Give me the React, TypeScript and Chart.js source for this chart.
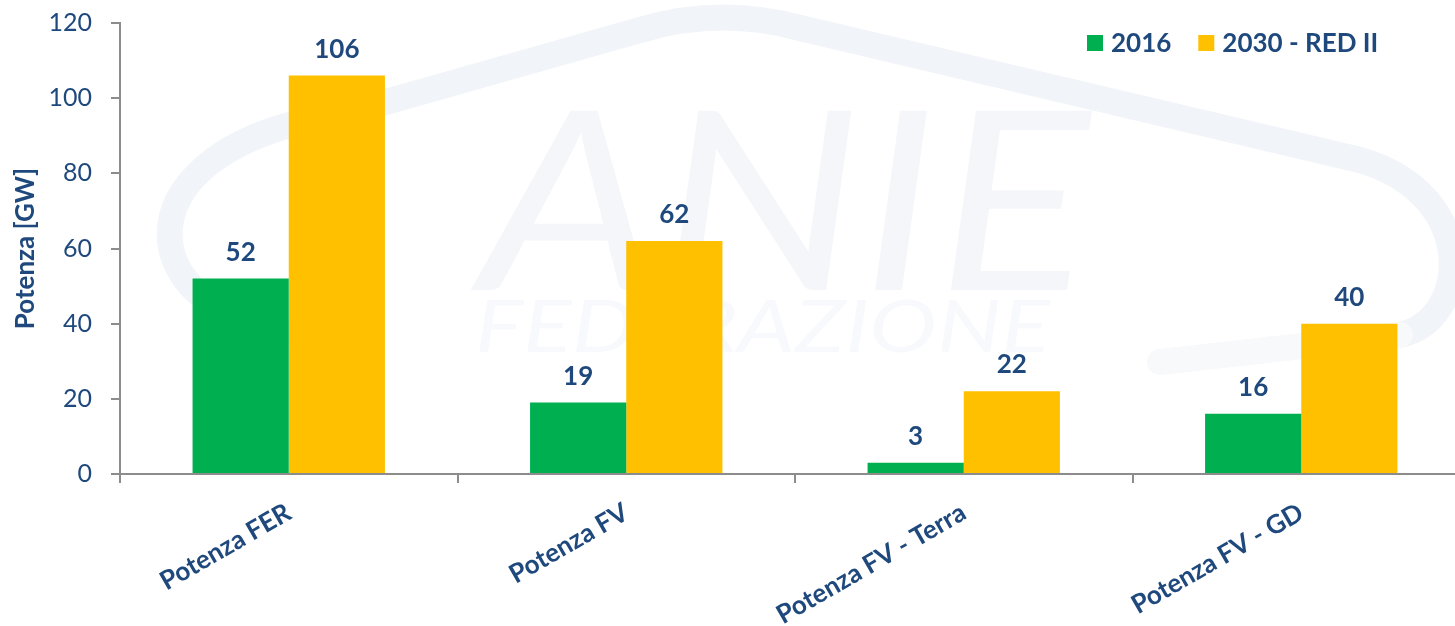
import React, { useEffect, useRef } from "react";
import { Chart, registerables } from "chart.js";

Chart.register(...registerables);

const categories = ["Potenza FER", "Potenza FV", "Potenza FV - Terra", "Potenza FV - GD"];
const values2016 = [52, 19, 3, 16];
const values2030 = [106, 62, 22, 40];
const seriesLabels = ["2016", "2030 - RED II"];
const seriesColors = ["#00B050", "#FFC000"];
const yTicks = [0, 20, 40, 60, 80, 100, 120];
const yTitle = "Potenza [GW]";
const watermarkMain = "ANIE";
const watermarkSub = "FEDERAZIONE";

const TEXT = "#1F497D";
const AXIS = "#8C8C8C";
const FONT = "Lato";
const SHIFT = 11; // canvas is placed SHIFT px above the page top

const watermarkPlugin = {
  id: "watermark",
  beforeDraw(chart: any) {
    const ctx = chart.ctx as CanvasRenderingContext2D;
    ctx.save();
    ctx.translate(0, SHIFT);
    ctx.strokeStyle = "#F1F4F8";
    ctx.lineWidth = 26;
    ctx.lineCap = "round";
    ctx.lineJoin = "round";
    ctx.beginPath();
    ctx.moveTo(300, 335);
    ctx.bezierCurveTo(120, 310, 120, 145, 340, 115);
    ctx.lineTo(640, 30);
    ctx.quadraticCurveTo(720, 6, 800, 28);
    ctx.lineTo(1360, 160);
    ctx.bezierCurveTo(1480, 195, 1470, 320, 1400, 335);
    ctx.stroke();
    ctx.strokeStyle = "#F8F9FB";
    ctx.beginPath();
    ctx.moveTo(1400, 335);
    ctx.lineTo(1160, 362);
    ctx.stroke();

    ctx.fillStyle = "#F4F6FA";
    ctx.font = `italic 400 250px ${FONT}`;
    ctx.textBaseline = "alphabetic";
    ctx.textAlign = "left";
    let w = ctx.measureText(watermarkMain).width;
    ctx.save();
    ctx.translate(480, 290);
    ctx.scale(610 / w, 1);
    ctx.fillText(watermarkMain, 0, 0);
    ctx.restore();

    ctx.fillStyle = "#F8F9FC";
    ctx.font = `italic 400 72px ${FONT}`;
    w = ctx.measureText(watermarkSub).width;
    ctx.save();
    ctx.translate(475, 352);
    ctx.scale(575 / w, 1);
    ctx.fillText(watermarkSub, 0, 0);
    ctx.restore();
    ctx.restore();
  },
};

const dataLabelPlugin = {
  id: "dataLabels",
  afterDatasetsDraw(chart: any) {
    const ctx = chart.ctx as CanvasRenderingContext2D;
    ctx.save();
    ctx.fillStyle = TEXT;
    ctx.font = `bold 26px ${FONT}`;
    ctx.textAlign = "center";
    ctx.textBaseline = "alphabetic";
    chart.data.datasets.forEach((ds: any, i: number) => {
      const meta = chart.getDatasetMeta(i);
      meta.data.forEach((bar: any, j: number) => {
        ctx.fillText(String(ds.data[j]), bar.x, bar.y - 18);
      });
    });
    ctx.restore();
  },
};

const legendPlugin = {
  id: "customLegend",
  afterDraw(chart: any) {
    const ctx = chart.ctx as CanvasRenderingContext2D;
    ctx.save();
    ctx.font = `bold 26px ${FONT}`;
    ctx.textBaseline = "middle";
    ctx.textAlign = "left";
    let x = 1087;
    const y = 43 + SHIFT;
    chart.data.datasets.forEach((ds: any) => {
      ctx.fillStyle = ds.backgroundColor;
      ctx.fillRect(x, y - 8, 16, 16);
      x += 24;
      ctx.fillStyle = TEXT;
      ctx.fillText(ds.label, x, y + 1);
      x += ctx.measureText(ds.label).width + 27;
    });
    ctx.restore();
  },
};

export default function App() {
  const canvasRef = useRef<HTMLCanvasElement | null>(null);

  useEffect(() => {
    if (!canvasRef.current) return;
    const chart = new Chart(canvasRef.current, {
      type: "bar",
      data: {
        labels: categories,
        datasets: [
          {
            label: seriesLabels[0],
            data: values2016,
            backgroundColor: seriesColors[0],
            borderWidth: 0,
            barPercentage: 1,
            categoryPercentage: 0.57,
          },
          {
            label: seriesLabels[1],
            data: values2030,
            backgroundColor: seriesColors[1],
            borderWidth: 0,
            barPercentage: 1,
            categoryPercentage: 0.57,
          },
        ],
      },
      options: {
        responsive: false,
        animation: false,
        layout: { padding: { top: 11, right: 10, left: 0, bottom: 0 } },
        plugins: {
          legend: { display: false },
          tooltip: { enabled: false },
        },
        scales: {
          x: {
            grid: {
              display: true,
              drawOnChartArea: false,
              drawTicks: true,
              tickLength: 9,
              color: AXIS,
              lineWidth: 2,
              offset: true,
            },
            border: { color: AXIS, width: 2 },
            ticks: {
              color: TEXT,
              font: { family: FONT, weight: "bold", size: 26 },
              minRotation: 30,
              maxRotation: 30,
              padding: 14,
              autoSkip: false,
            },
            afterFit: (s: any) => {
              s.height = 152;
            },
          },
          y: {
            min: yTicks[0],
            max: yTicks[yTicks.length - 1],
            grid: {
              drawOnChartArea: false,
              drawTicks: true,
              tickLength: 9,
              color: AXIS,
              lineWidth: 2,
            },
            border: { color: AXIS, width: 2 },
            ticks: {
              color: TEXT,
              font: { family: FONT, size: 25 },
              padding: 19,
            },
            afterBuildTicks: (s: any) => {
              s.ticks = yTicks.map((v) => ({ value: v }));
            },
            title: {
              display: true,
              text: yTitle,
              color: TEXT,
              font: { family: FONT, weight: "bold", size: 26 },
              padding: { top: 10, bottom: 0 },
            },
            afterFit: (s: any) => {
              s.width = 120;
            },
          },
        },
      } as any,
      plugins: [watermarkPlugin, dataLabelPlugin, legendPlugin],
    });
    return () => chart.destroy();
  }, []);

  return (
    <div
      style={{
        position: "fixed",
        left: 0,
        top: 0,
        width: 1455,
        height: 626,
        overflow: "hidden",
        background: "#ffffff",
      }}
    >
      <canvas
        ref={canvasRef}
        width={1480}
        height={626 + SHIFT}
        style={{ position: "absolute", left: 0, top: -SHIFT, width: 1480, height: 626 + SHIFT, display: "block" }}
      />
    </div>
  );
}
